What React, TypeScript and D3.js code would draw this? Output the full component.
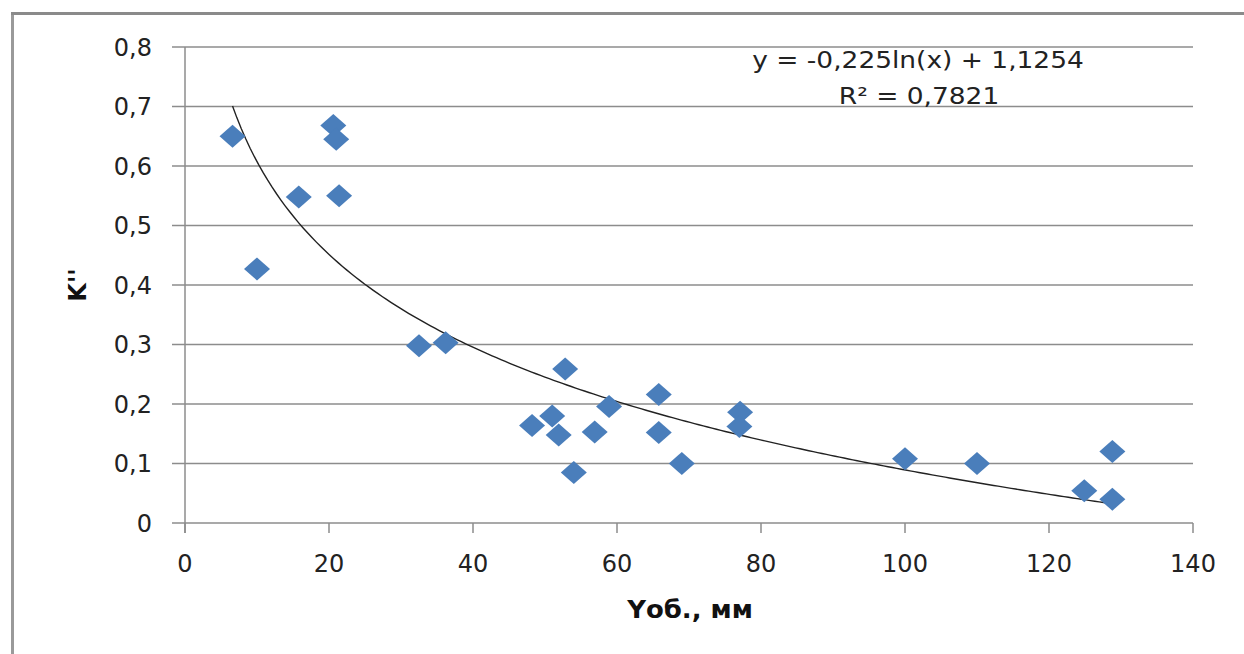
import React from "react";
import * as d3 from "d3";

const xValues = [6.6, 10, 15.8, 20.6, 21, 21.4, 32.5, 36.2, 48.2, 51, 51.9, 52.8, 54, 56.9, 58.9, 65.8, 65.8, 69, 77.1, 77, 100, 110, 124.9, 128.8, 128.8];
const yValues = [0.65, 0.427, 0.548, 0.668, 0.645, 0.55, 0.298, 0.303, 0.164, 0.18, 0.148, 0.259, 0.085, 0.153, 0.196, 0.216, 0.152, 0.1, 0.186, 0.162, 0.108, 0.1, 0.054, 0.04, 0.12];
const xTicks = [0, 20, 40, 60, 80, 100, 120, 140];
const yTicks = [0, 0.1, 0.2, 0.3, 0.4, 0.5, 0.6, 0.7, 0.8];
const trendA = -0.225;
const trendB = 1.1254;
const equationText = "y = -0,225ln(x) + 1,1254";
const r2Value = "0,7821";
const xTitle = "Yоб., мм";
const yTitle = "K''";

const W = 1244;
const H = 654;
const L = 185, R = 1193, T = 47, B = 523;
const FONT = "'DejaVu Sans', sans-serif";

export default function App() {
  const x = d3.scaleLinear().domain([0, 140]).range([L, R]);
  const y = d3.scaleLinear().domain([0, 0.8]).range([B, T]);
  const fmt = (v: number) => String(+v.toFixed(1)).replace(".", ",");

  const xMin = d3.min(xValues) as number;
  const xMax = d3.max(xValues) as number;
  const trendXs = d3.range(0, 201).map((i) => xMin + ((xMax - xMin) * i) / 200);
  const line = d3
    .line<number>()
    .x((v) => x(v))
    .y((v) => y(trendA * Math.log(v) + trendB))
    .curve(d3.curveLinear);

  const dw = 13, dh = 11.5;
  const diamond = `M0,${-dh}L${dw},0L0,${dh}L${-dw},0Z`;

  return (
    <svg width={W} height={H} style={{ position: "absolute", left: 0, top: 0, background: "#fff" }} fontFamily={FONT}>
      <rect x={0} y={0} width={W} height={H} fill="#fff" />
      {/* outer frame */}
      <line x1={12.5} y1={13} x2={12.5} y2={H} stroke="#9a9a9a" strokeWidth={3} />
      <line x1={11} y1={13.5} x2={W} y2={13.5} stroke="#8a8a8a" strokeWidth={3} />
      {/* gridlines */}
      {yTicks.map((t) => (
        <line key={"g" + t} x1={L - 13} x2={R} y1={y(t)} y2={y(t)} stroke="#8c8c8c" strokeWidth={1.5} />
      ))}
      {/* y axis */}
      <line x1={L} x2={L} y1={T} y2={B + 10} stroke="#8c8c8c" strokeWidth={1.5} />
      {xTicks.map((t) => (
        <line key={"xt" + t} x1={x(t)} x2={x(t)} y1={B} y2={B + 10} stroke="#8c8c8c" strokeWidth={1.5} />
      ))}
      {yTicks.map((t) => (
        <text key={"yl" + t} x={152} y={y(t)} dy="0.36em" textAnchor="end" fontSize={24} fill="#222">
          {fmt(t)}
        </text>
      ))}
      {xTicks.map((t) => (
        <text key={"xl" + t} x={x(t)} y={572} textAnchor="middle" fontSize={24} fill="#222">
          {t}
        </text>
      ))}
      {/* trendline */}
      <path d={line(trendXs) || ""} fill="none" stroke="#222" strokeWidth={1.4} />
      {/* points */}
      {xValues.map((v, i) => (
        <path key={"p" + i} d={diamond} transform={`translate(${x(v)},${y(yValues[i])})`} fill="#4a7ebb" />
      ))}
      {/* equation */}
      <text transform="translate(918,68) scale(1.15,1)" textAnchor="middle" fontSize={23} fill="#222">
        {equationText}
      </text>
      <text transform="translate(919,104) scale(1.15,1)" textAnchor="middle" fontSize={23} fill="#222">
        R² = {r2Value}
      </text>
      {/* axis titles */}
      <text transform="translate(690,618) scale(1.08,1)" textAnchor="middle" fontSize={24} fontWeight="bold" fill="#111">
        {xTitle}
      </text>
      <text transform={`translate(86,285) rotate(-90)`} textAnchor="middle" fontSize={24} fontWeight="bold" fill="#111">
        {yTitle}
      </text>
    </svg>
  );
}
